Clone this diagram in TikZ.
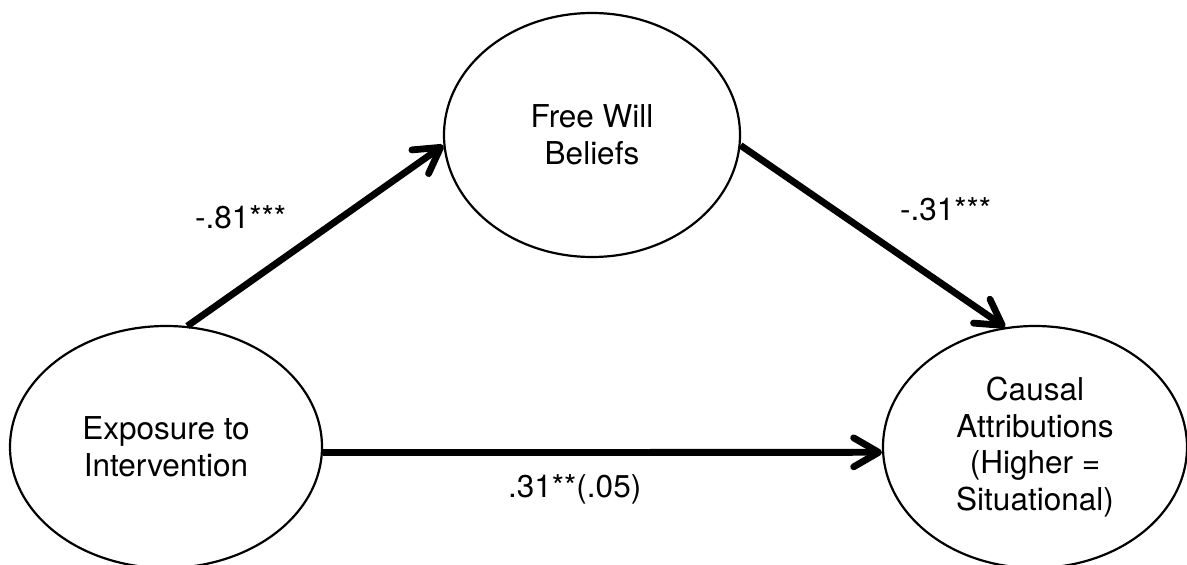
\documentclass[tikz,border=0pt]{standalone}
\usepackage{fontspec}
\setmainfont{TeX Gyre Heros}
\usetikzlibrary{shapes.geometric,arrows.meta}
\tikzset{
  var/.style={ellipse, draw, line width=2.2pt, inner sep=0pt, align=center,
    font=\fontsize{31.5}{36.8}\selectfont},
  path/.style={line width=6.8pt, -{Straight Barb[length=25pt, width=29pt, round]}},
  coef/.style={inner sep=0pt, font=\fontsize{31.5}{36.8}\selectfont}
}
\begin{document}
\begin{tikzpicture}[x=1pt, y=-1pt]
\useasboundingbox (0,0) rectangle (1187,565);
\node[var, minimum width=312pt, minimum height=242pt] (L) at (166,447) {Exposure to\\Intervention};
\node[var, minimum width=296pt, minimum height=244pt] (T) at (592,135) {Free Will\\Beliefs};
\node[var, minimum width=304pt, minimum height=242pt] (R) at (1035,447) {Causal\\Attributions\\(Higher =\\Situational)};
\draw[path] (L.80) -- (T.184);
\draw[path] (T.-4) -- (R.104);
\draw[path] (L.-2) -- (R.182);
\node[coef, anchor=base west] (a) at (195,228) {-.81***};
\node[coef, anchor=base west] (b) at (900,220) {-.31***};
\node[coef, anchor=base west] (c) at (508,497) {.31**(.05)};
\end{tikzpicture}
\end{document}
